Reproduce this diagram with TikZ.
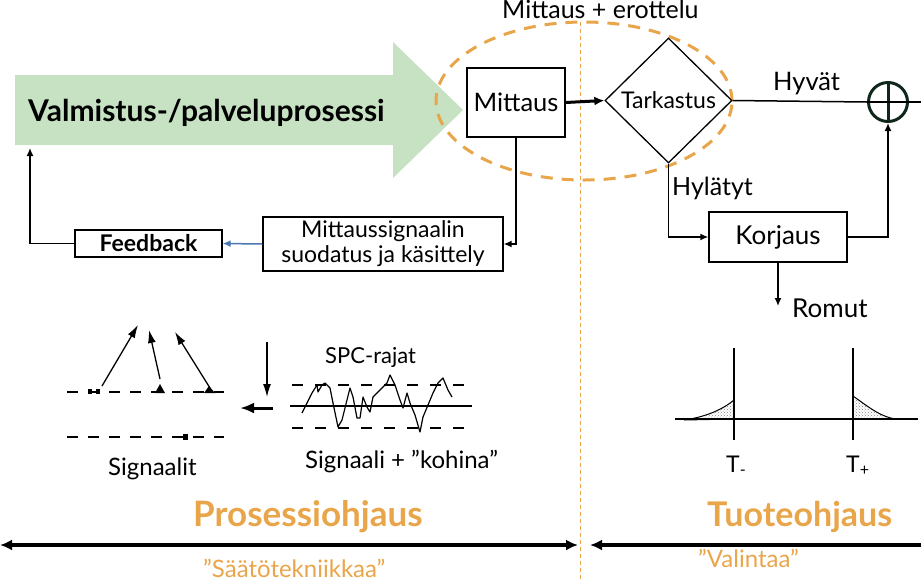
\documentclass[tikz,border=0pt]{standalone}
\usepackage{fontspec}
\setmainfont{Lato}
\usetikzlibrary{arrows.meta,shapes.geometric,patterns}
\definecolor{pgreen}{HTML}{C6E2C2}
\definecolor{porange}{HTML}{E9A54A}
\definecolor{pblue}{HTML}{4A78B0}
\definecolor{pdark}{HTML}{10281C}
\tikzset{
  boxn/.style={draw, line width=1.3pt, rectangle, inner sep=0pt, align=center},
  conn/.style={line width=1.5pt},
  arr/.style={conn, -{Latex[length=8pt,width=7pt]}},
  lbl/.style={inner sep=0pt, anchor=base west},
  otxt/.style={text=porange, inner sep=0pt, anchor=base west},
  bigarr/.style={line width=3.5pt},
}
\newcommand{\fs}[1]{\fontsize{#1}{#1}\selectfont}
\begin{document}
\begin{tikzpicture}[x=1pt,y=-1pt]
\useasboundingbox (0,0) rectangle (921,582);
% green process arrow
\fill[pgreen] (15,75) -- (393,75) -- (393,42) -- (463,110) -- (393,178) -- (393,145) -- (15,145) -- cycle;
\node[lbl] (proc) at (28,121) {\fs{30}\bfseries Valmistus-/palveluprosessi};
\coordinate (gbot) at (30,148);
% orange ellipse and divider
\draw[porange, line width=3pt, dash pattern=on 12pt off 9pt] (584,101) ellipse [x radius=148pt, y radius=79pt];
\draw[porange, line width=0.6pt, dash pattern=on 4pt off 3pt] (580,22) -- (580,582);
\node[lbl] (meas) at (502,18) {\fs{25}Mittaus + erottelu};
% nodes
\node[boxn, minimum width=98pt, minimum height=69pt] (mit) at (516,102.5) {\fs{25.5}Mittaus};
\node[draw, line width=1.3pt, diamond, inner sep=0pt, minimum width=127pt, minimum height=125pt] (tark) at (668.5,100.5) {\fs{23}Tarkastus};
\node[circle, draw=pdark, line width=3pt, minimum size=39pt, inner sep=0pt] (plus) at (888,102) {};
\draw[pdark, line width=3pt] (plus.north) -- (plus.south);
\node[boxn, minimum width=138pt, minimum height=50pt] (kor) at (778,237) {\fs{26}Korjaus};
\node[boxn, minimum width=240pt, minimum height=54pt, font=\fontsize{23}{25}\selectfont] (msig) at (383,244) {Mittaussignaalin\\suodatus ja käsittely};
\node[boxn, minimum width=147pt, minimum height=27pt] (fb) at (148.5,243.5) {\fs{23}\bfseries Feedback};
\coordinate (outR) at (921,102);
\coordinate (romut) at (778,306);
% connectors
\draw[line width=3pt, -{Latex[length=10pt,width=9pt]}] (mit.east) -- (tark.west);
\draw[conn] (tark.east) -- (plus.west);
\draw[conn] (plus.west) -- (plus.east);
\draw[conn] (plus.east) -- (outR);
\draw[arr] (kor.east) -| (plus.south);
\draw[arr] (tark.south) |- (kor.west);
\draw[arr] (kor.south) -- (romut);
\draw[arr] (mit.south) |- (msig.east);
\draw[conn, pblue, -{Latex[length=8pt,width=7pt]}] (msig.west) -- (fb.east);
\draw[arr] (fb.west) -| (gbot);
% labels
\node[lbl] (hyv) at (773,90) {\fs{25.5}Hyvät};
\node[lbl] (hyl) at (672,195) {\fs{25}Hylätyt};
\node[lbl] (rom) at (792,317) {\fs{26}Romut};
% Signaalit graphic
\draw[line width=1.4pt, dash pattern=on 11pt off 10pt] (67,392) -- (224,392);
\draw[line width=1.4pt, dash pattern=on 11pt off 10pt] (67,437) -- (224,437);
\draw[line width=1.3pt, -{Latex[length=13pt,width=8pt]}] (102,386) -- (138,325);
\draw[line width=1.3pt, -{Latex[length=13pt,width=8pt]}] (160,379) -- (149,330);
\draw[line width=1.3pt, -{Latex[length=13pt,width=8pt]}] (210,388) -- (175,332);
\fill (155,393) -- (160,384) -- (165,393) -- cycle;
\fill (204,393) -- (209,386) -- (215,393) -- cycle;
\fill (88,389) rectangle (92,394);
\fill (96,389) rectangle (100,394);
\fill (183,434) rectangle (188,440);
\draw[line width=1.3pt, -{Latex[length=13pt,width=8pt]}] (267,342) -- (267,397);
\draw[line width=3pt, -{Latex[length=14pt,width=11pt]}] (273,408) -- (240,408);
\node[lbl] (sig) at (108,475) {\fs{24}Signaalit};
% SPC chart
\draw[line width=1.4pt, dash pattern=on 11pt off 12pt] (292,385) -- (472,385);
\draw[line width=1.2pt] (290,406) -- (472,406);
\draw[line width=1.4pt, dash pattern=on 11pt off 12pt] (292,428) -- (472,428);
\draw[line width=1.2pt, line join=round] plot coordinates {(302,413) (307,403) (312,393) (317,385) (318,392) (322,385) (325,383) (330,388) (333,403) (338,427) (342,420) (347,400) (350,388) (353,397) (357,418) (360,418) (363,397) (367,407) (370,412) (373,397) (380,390) (387,383) (390,375) (395,385) (400,400) (403,408) (407,393) (410,403) (415,415) (420,432) (423,417) (428,405) (433,393) (438,383) (443,378) (448,390) (452,397)};
\node[lbl] (spc) at (325,363) {\fs{22}SPC-rajat};
\node[lbl] (sk) at (305,468) {\fs{24}Signaali + ”kohina”};
% tolerance graphic
\draw[line width=1pt, pattern=crosshatch dots, pattern color=gray] (684,420) .. controls (705,417) and (722,410) .. (734,400) -- (734,419) -- cycle;
\draw[line width=1pt, pattern=crosshatch dots, pattern color=gray] (853,396) .. controls (866,405) and (880,417) .. (896,419) -- (853,419) -- cycle;
\draw[line width=1.2pt] (675,419) -- (918,419);
\draw[line width=1.2pt] (734,348) -- (734,440);
\draw[line width=1.2pt] (853,348) -- (853,440);
\node[lbl] (tm) at (726,472) {\fs{23}T\textsubscript{-}};
\node[lbl] (tp) at (846,472) {\fs{23}T\textsubscript{+}};
% bottom
\node[otxt] (po) at (193,526) {\fs{35}\bfseries Prosessiohjaus};
\node[otxt] (to) at (707,526) {\fs{34}\bfseries Tuoteohjaus};
\coordinate (bl) at (0,545);
\coordinate (bm) at (578,545);
\coordinate (bm2) at (590,545);
\coordinate (br) at (921,545);
\draw[bigarr, {Latex[length=12pt,width=11pt]}-{Latex[length=12pt,width=11pt]}] (bl) -- (bm);
\draw[bigarr, {Latex[length=12pt,width=11pt]}-] (bm2) -- (br);
\node[otxt] (st) at (203,577) {\fs{24}”Säätötekniikkaa”};
\node[otxt] (va) at (698,567) {\fs{24}”Valintaa”};
\end{tikzpicture}
\end{document}
